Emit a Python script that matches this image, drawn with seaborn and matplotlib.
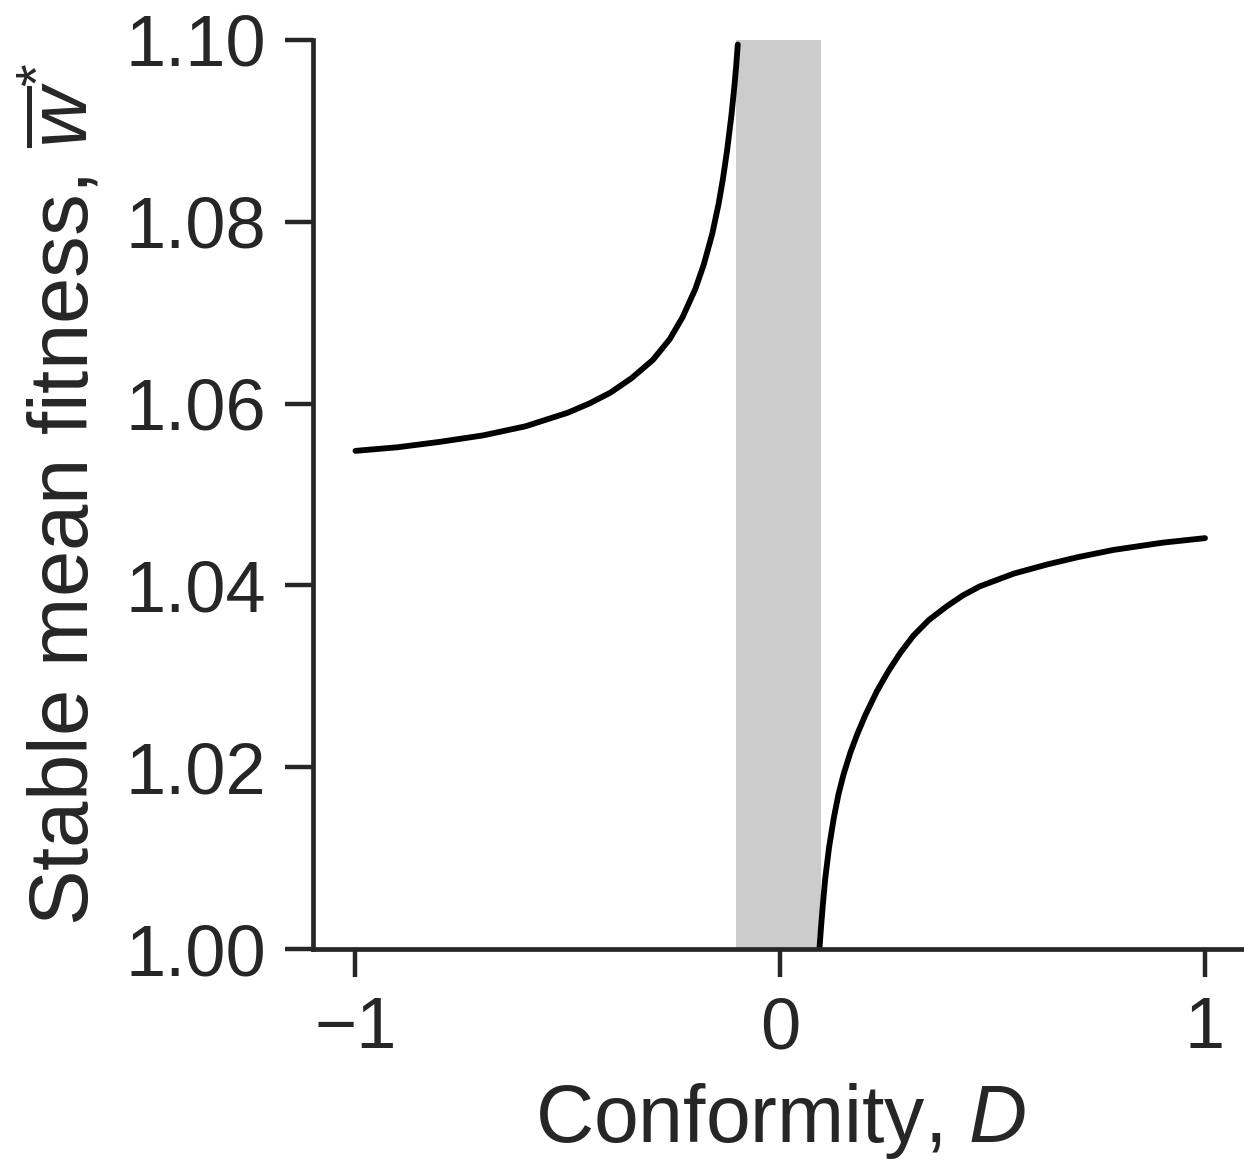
import numpy as np
import pandas as pd
import matplotlib
matplotlib.use("Agg")
import matplotlib.pyplot as plt
import seaborn as sns

# Left branch (D < 0)
left_D = [-1.0, -0.9, -0.8, -0.7, -0.6, -0.5, -0.45, -0.40, -0.35, -0.30, -0.26,
          -0.23, -0.20, -0.18, -0.16, -0.145, -0.135, -0.125, -0.115, -0.108,
          -0.104, -0.100]
left_W = [1.0548, 1.0552, 1.0558, 1.0565, 1.0575, 1.0590, 1.0600, 1.0612, 1.0628,
          1.0648, 1.0671, 1.0695, 1.0726, 1.0753, 1.0787, 1.0820, 1.0847, 1.0879,
          1.0917, 1.0949, 1.0970, 1.0995]
# Right branch (D > 0)
right_D = [0.0925, 0.096, 0.100, 0.106, 0.115, 0.126, 0.137, 0.149, 0.165, 0.181,
           0.200, 0.228, 0.255, 0.283, 0.314, 0.35, 0.392, 0.43, 0.47, 0.55,
           0.628, 0.70, 0.784, 0.90, 1.00]
right_W = [1.0002, 1.0024, 1.0047, 1.0078, 1.0112, 1.0144, 1.0170, 1.0192, 1.0216,
           1.0236, 1.0257, 1.0284, 1.0306, 1.0326, 1.0345, 1.0362, 1.0377, 1.0389,
           1.0399, 1.0413, 1.0423, 1.0431, 1.0439, 1.0447, 1.0452]
# Shaded region (no stable equilibrium)
shade_D = [-0.103, 0.097]

x_ticks = [-1, 0, 1]
y_ticks = [1.00, 1.02, 1.04, 1.06, 1.08, 1.10]

sns.set_theme(style="ticks")
plt.rcParams["font.family"] = ["Liberation Sans", "DejaVu Sans"]
plt.rcParams["mathtext.fontset"] = "custom"
plt.rcParams["mathtext.rm"] = "Liberation Sans"
plt.rcParams["mathtext.it"] = "Liberation Sans:italic"

fig = plt.figure(figsize=(12.44, 11.62), dpi=100)
ax = fig.add_axes([313 / 1244, 1 - 949 / 1162, (1247.5 - 313) / 1244, (949 - 40) / 1162])

ax.axvspan(shade_D[0], shade_D[1], color="#cccccc", lw=0, zorder=0)

ldf = pd.DataFrame({"D": left_D, "W": left_W})
rdf = pd.DataFrame({"D": right_D, "W": right_W})
for df in (ldf, rdf):
    sns.lineplot(data=df, x="D", y="W", ax=ax, color="black", lw=4.2, sort=False,
                 solid_capstyle="round", solid_joinstyle="round")

ax.set_xlim(-1.1, 1.1)
ax.set_ylim(1.0, 1.1)
ax.set_xticks(x_ticks)
ax.set_xticklabels(["\u22121", "0", "1"])
ax.set_yticks(y_ticks)
ax.set_yticklabels([f"{v:.2f}" for v in y_ticks])
sns.despine(ax=ax)
for s in ["left", "bottom"]:
    ax.spines[s].set_linewidth(3.4)
    ax.spines[s].set_color("#262626")
ax.tick_params(axis="both", length=20, width=3.2, color="#262626", labelsize=52,
               labelcolor="#262626", pad=14)
ax.set_xlabel("Conformity, $D$", fontsize=58, color="#262626", labelpad=13)
ax.set_ylabel(r"Stable mean fitness, $\overline{w}^{*}$", fontsize=60,
              color="#262626", labelpad=14)

fig.savefig("out.png", dpi=100)
